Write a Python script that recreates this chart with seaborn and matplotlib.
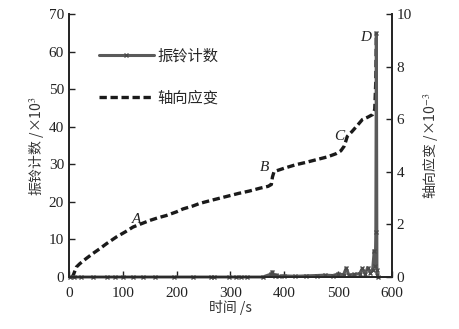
import matplotlib
matplotlib.use('Agg')
import matplotlib.pyplot as plt
import seaborn as sns

# 振铃计数 (x10^3)
count_t = [3, 10, 23, 45, 70, 85, 100, 120, 138, 160, 196, 230, 264, 270, 298, 310, 320, 330,
           360, 376, 378, 380, 382, 385, 390, 400, 420, 440, 460, 475, 490, 500, 510, 515,
           520, 530, 540, 545, 550, 555, 560, 564, 567, 569, 570, 571, 572, 573, 574]
count_v = [0.0, 0.0, 0.0, 0.0, 0.0, 0.0, 0.0, 0.0, 0.0, 0.0, 0.0, 0.0, 0.0, 0.0, 0.0, 0.0, 0.0, 0.0,
           0.0, 0.8, 1.4, 0.6, 0.3, 0.5, 0.2, 0.3, 0.2, 0.3, 0.4, 0.5, 0.4, 0.8, 0.6, 2.4,
           0.5, 0.7, 0.9, 2.3, 0.8, 2.5, 1.2, 1.8, 7.0, 3.0, 12.0, 65.0, 2.0, 0.5, 0.0]

# 轴向应变 (x10^-3)
strain_t = [5, 8, 14, 20, 32, 45, 57, 70, 88, 105, 119, 135, 150, 165, 181, 200, 212, 230, 243,
            265, 292, 315, 335, 355, 370, 376, 378, 381, 400, 421, 440, 459, 480, 496, 505, 511,
            514, 517, 526, 535, 545, 555, 564, 568, 570, 571]
strain_v = [0.0, 0.06, 0.38, 0.5, 0.70, 0.90, 1.07, 1.27, 1.52, 1.72, 1.90, 2.03, 2.15, 2.25,
            2.34, 2.48, 2.59, 2.70, 2.80, 2.92, 3.06, 3.18, 3.27, 3.38, 3.45, 3.52, 3.80, 4.01,
            4.14, 4.27, 4.36, 4.46, 4.57, 4.69, 4.80, 4.97, 5.15, 5.35, 5.54, 5.75, 5.99, 6.08,
            6.18, 6.37, 7.5, 9.3]

sns.set_style('ticks')
plt.rcParams['font.family'] = ['Liberation Serif', 'Noto Sans CJK SC']
plt.rcParams['mathtext.fontset'] = 'stix'

fig = plt.figure(figsize=(4.59, 3.29), dpi=100)
ax = fig.add_axes([0.150, 0.158, 0.704, 0.799])
ax2 = ax.twinx()
# count series drawn above the strain axes
ax.set_zorder(ax2.get_zorder() + 1)
ax.patch.set_visible(False)

sns.lineplot(x=strain_t, y=strain_v, ax=ax2, color='#1a1a1a', lw=2.4,
             linestyle=(0, (2.2, 1.1)), label='轴向应变', legend=False)
sns.lineplot(x=count_t, y=count_v, ax=ax, color='#5a5a5a', lw=2.2, marker='x',
             markersize=3.5, markeredgewidth=1.0, markeredgecolor='#4a4a4a',
             label='振铃计数', legend=False, clip_on=False)

ax.set_xlim(0, 600)
ax.set_ylim(0, 70)
ax2.set_ylim(0, 10)
ax.set_xticks([0, 100, 200, 300, 400, 500, 600])
ax.set_yticks(range(0, 71, 10))
ax2.set_yticks(range(0, 11, 2))

cjk = ['Noto Sans CJK SC', 'DejaVu Sans']
ax.set_ylabel('振铃计数 /×10$^3$', family=cjk, fontsize=10, color='#333333', labelpad=2)
ax2.set_ylabel('轴向应变 /×10$^{-3}$', family=cjk, fontsize=10, color='#333333', labelpad=6)

for a in (ax, ax2):
    a.tick_params(direction='in', labelsize=11, length=4, width=1, colors='#222222')
    a.spines['top'].set_visible(False)
    for s in ('left', 'right', 'bottom'):
        a.spines[s].set_linewidth(1.3)
ax.tick_params(axis='x', pad=7)
ax.set_xlabel('时间 /s', family=cjk, fontsize=10, color='#333333', labelpad=0)

for txt, tx, ty in [('A', 125, 15.3), ('B', 363, 29.1), ('C', 502, 37.4), ('D', 551, 63.8)]:
    ax.text(tx, ty, txt, style='italic', fontsize=11, ha='center', va='center', color='#222222')

h1, l1 = ax.get_legend_handles_labels()
h2, l2 = ax2.get_legend_handles_labels()
leg = ax.legend(h1 + h2, l1 + l2, loc='upper left', bbox_to_anchor=(0.05, 0.925), frameon=False,
                handlelength=3.6, labelspacing=1.65, handletextpad=0.25,
                prop={'family': cjk, 'size': 11})
for line in leg.get_lines():
    line.set_markevery([1])

fig.savefig('out.png', dpi=100)
